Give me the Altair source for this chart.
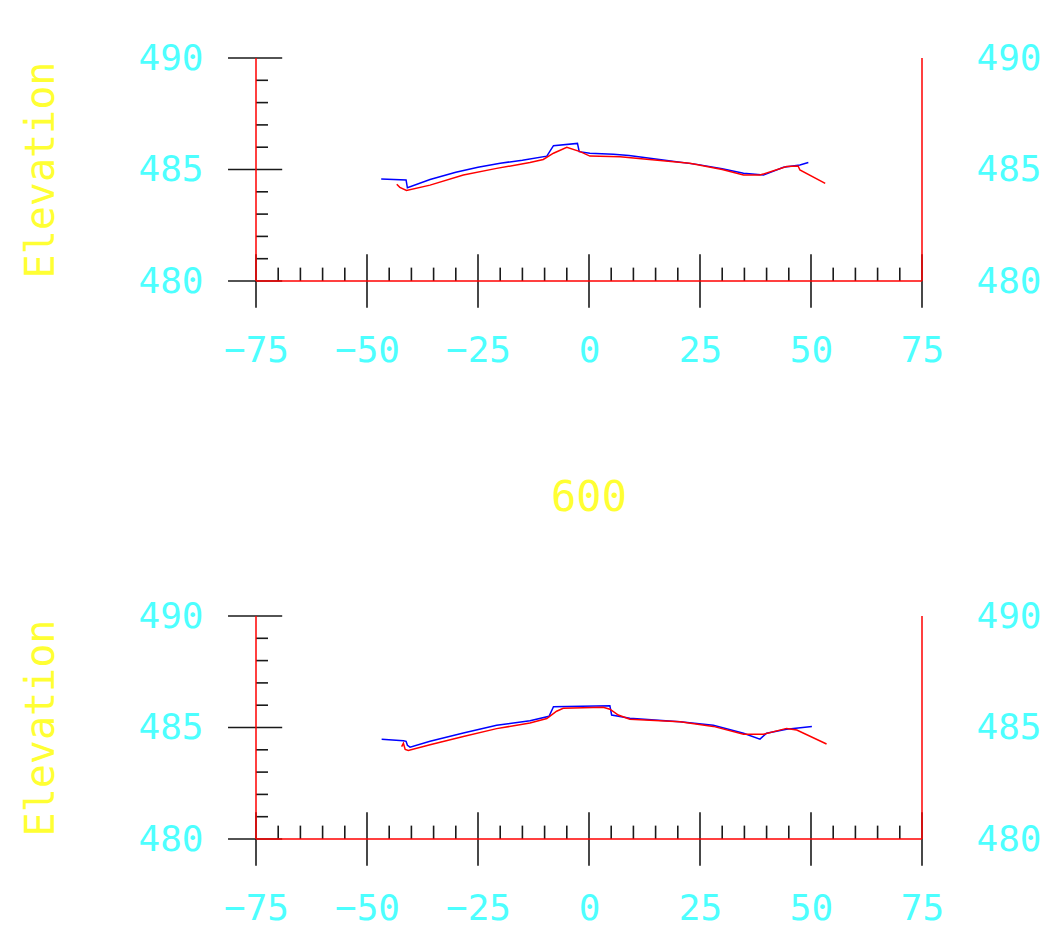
import altair as alt
import pandas as pd

# ---- profile data: top section ----
top_blue_x = [-46.8, -41.2, -40.9, -35.8, -30.0, -25.0, -20.0, -15.0, -9.5, -8.0, -2.6, -2.2, 0.2, 5.5, 9.0, 16.7, 24.3, 30.0, 34.8, 39.3, 43.8, 47.5, 49.4]
top_blue_y = [484.57, 484.53, 484.18, 484.55, 484.88, 485.10, 485.28, 485.42, 485.60, 486.07, 486.17, 485.80, 485.73, 485.68, 485.63, 485.43, 485.23, 485.03, 484.83, 484.75, 485.10, 485.20, 485.31]
top_red_x = [-43.3, -42.6, -41.1, -35.8, -28.3, -20.8, -13.3, -10.3, -8.0, -5.0, -2.0, 0.2, 7.0, 13.0, 22.7, 30.0, 34.8, 38.5, 44.5, 47.1, 47.5, 53.2]
top_red_y = [484.34, 484.20, 484.06, 484.30, 484.75, 485.05, 485.31, 485.45, 485.73, 486.00, 485.80, 485.60, 485.57, 485.46, 485.28, 485.00, 484.75, 484.75, 485.13, 485.16, 484.98, 484.38]

# ---- profile data: section 600 ----
bot_blue_x = [-46.7, -41.8, -41.2, -40.9, -40.3, -35.8, -28.3, -20.8, -13.3, -9.0, -8.0, 4.7, 5.1, 9.2, 20.5, 28.0, 34.8, 38.5, 40.0, 44.5, 50.2]
bot_blue_y = [484.47, 484.41, 484.38, 484.20, 484.12, 484.38, 484.75, 485.10, 485.30, 485.50, 485.93, 485.98, 485.56, 485.41, 485.26, 485.10, 484.74, 484.48, 484.74, 484.92, 485.04]
bot_red_x = [-42.2, -41.8, -41.4, -40.7, -35.8, -28.3, -20.8, -13.3, -9.5, -7.3, -5.8, 3.2, 4.7, 6.6, 9.2, 20.5, 28.0, 34.8, 39.3, 44.5, 46.8, 53.5]
bot_red_y = [484.14, 484.29, 484.02, 483.97, 484.23, 484.60, 484.95, 485.20, 485.40, 485.73, 485.86, 485.91, 485.82, 485.56, 485.37, 485.26, 485.05, 484.70, 484.70, 484.96, 484.89, 484.26]

# ---- axis ticks / labels ----
x_major = [-75, -50, -25, 0, 25, 50, 75]
x_minor = [-70, -65, -60, -55, -45, -40, -35, -30, -20, -15, -10, -5,
           5, 10, 15, 20, 30, 35, 40, 45, 55, 60, 65, 70]
y_major = [480, 485, 490]
y_minor = [481, 482, 483, 484, 486, 487, 488, 489]
section_titles = ["", "600"]

FONT = "DejaVu Sans Mono"
CYAN = "#4dffff"
YELLOW = "#ffff33"
BLACK = "#1a1a1a"
RED = "#ff0000"
BLUE = "#0000ff"


def xs():
    return alt.Scale(domain=[-75, 75], nice=False, zero=False)


def ys():
    return alt.Scale(domain=[480, 490], nice=False, zero=False)


x_axis = alt.Axis(values=x_major, labelFont=FONT, labelFontSize=36, labelColor=CYAN,
                  labelBaseline="middle", labelPadding=69, ticks=False, domain=False,
                  grid=False, labelFlush=False, labelOverlap=False, title=None)
left_axis = alt.Axis(values=y_major, labelFont=FONT, labelFontSize=36, labelColor=CYAN,
                     labelAlign="right", labelBaseline="middle", labelPadding=53,
                     ticks=False, domain=False, grid=False, labelFlush=False,
                     labelOverlap=False, title="Elevation", titleFont=FONT,
                     titleFontSize=40, titleColor=YELLOW, titleFontWeight="normal",
                     titlePadding=76)
right_axis = alt.Axis(values=y_major, orient="right", labelFont=FONT, labelFontSize=36,
                      labelColor=CYAN, labelAlign="left", labelBaseline="middle",
                      labelPadding=54, ticks=False, domain=False, grid=False,
                      labelFlush=False, labelOverlap=False, title=None)


def panel(bx, by, rx, ry, title):
    blue_df = pd.DataFrame({"x": bx, "y": by, "i": range(len(bx))})
    red_df = pd.DataFrame({"x": rx, "y": ry, "i": range(len(rx))})
    xmaj = pd.DataFrame({"x": x_major, "y0": [478.8] * len(x_major), "y1": [481.2] * len(x_major)})
    xmin = pd.DataFrame({"x": x_minor, "y0": [480.0] * len(x_minor), "y1": [480.6] * len(x_minor)})
    ymaj = pd.DataFrame({"y": y_major, "x0": [-81.3] * 3, "x1": [-69.1] * 3})
    ymin = pd.DataFrame({"y": y_minor, "x0": [-75.0] * len(y_minor), "x1": [-72.3] * len(y_minor)})
    frame_v = pd.DataFrame({"x": [-75, 75], "y0": [480, 480], "y1": [490, 490]})
    frame_h = pd.DataFrame({"y": [480], "x0": [-75], "x1": [75]})

    def vrule(df, color, w, xaxis=None):
        return alt.Chart(df).mark_rule(color=color, strokeWidth=w).encode(
            x=alt.X("x:Q", scale=xs(), axis=xaxis),
            y=alt.Y("y0:Q", scale=ys(), axis=None), y2="y1:Q")

    def hrule(df, color, w):
        return alt.Chart(df).mark_rule(color=color, strokeWidth=w).encode(
            y=alt.Y("y:Q", scale=ys(), axis=None),
            x=alt.X("x0:Q", scale=xs(), axis=None), x2="x1:Q")

    blue = alt.Chart(blue_df).mark_line(color=BLUE, strokeWidth=1.5).encode(
        x=alt.X("x:Q", scale=xs(), axis=None),
        y=alt.Y("y:Q", scale=ys(), axis=left_axis),
        order="i:Q")
    red = alt.Chart(red_df).mark_line(color=RED, strokeWidth=1.5).encode(
        x=alt.X("x:Q", scale=xs(), axis=None),
        y=alt.Y("y:Q", scale=ys(), axis=right_axis),
        order="i:Q")

    ch = alt.layer(
        vrule(xmaj, BLACK, 1.6, x_axis), vrule(xmin, BLACK, 1.6),
        hrule(ymaj, BLACK, 1.6), hrule(ymin, BLACK, 1.6),
        vrule(frame_v, RED, 1.5), hrule(frame_h, RED, 1.5),
        blue, red,
    ).resolve_scale(x="independent", y="independent").properties(width=666, height=223)
    if title:
        ch = ch.properties(title=alt.TitleParams(title, font=FONT, fontSize=42, color=YELLOW,
                                                 fontWeight="normal", anchor="middle", offset=78))
    return ch


top = panel(top_blue_x, top_blue_y, top_red_x, top_red_y, section_titles[0])
bottom = panel(bot_blue_x, bot_blue_y, bot_red_x, bot_red_y, section_titles[1])

chart = alt.vconcat(top, bottom, spacing=335, bounds="flush").properties(
    padding={"left": 13, "top": 32, "right": 5, "bottom": 5},
    background="white",
).configure_view(stroke=None)

chart.save("out.html", embed_options={"renderer": "svg", "actions": False})
